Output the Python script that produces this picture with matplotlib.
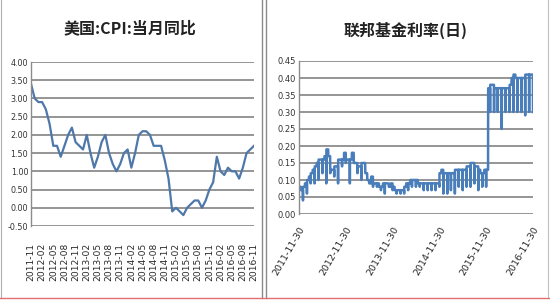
import numpy as np
import pandas as pd
import matplotlib
matplotlib.use("Agg")
import matplotlib.pyplot as plt
from matplotlib.lines import Line2D

# ---------------- data: left chart (US CPI YoY, monthly) ----------------
cpi_months = pd.period_range("2011-11", "2016-11", freq="M").strftime("%Y-%m").tolist()
cpi_values = [3.4, 3.0, 2.9, 2.9, 2.7, 2.3, 1.7, 1.7, 1.4, 1.7, 2.0, 2.2,
              1.8, 1.7, 1.6, 2.0, 1.5, 1.1, 1.4, 1.8, 2.0, 1.5, 1.2, 1.0,
              1.2, 1.5, 1.6, 1.1, 1.5, 2.0, 2.1, 2.1, 2.0, 1.7, 1.7, 1.7,
              1.3, 0.8, -0.1, 0.0, -0.1, -0.2, 0.0, 0.1, 0.2, 0.2, 0.0, 0.2,
              0.5, 0.7, 1.4, 1.0, 0.9, 1.1, 1.0, 1.0, 0.8, 1.1, 1.5, 1.6, 1.7]
cpi_yticks = [-0.5, 0.0, 0.5, 1.0, 1.5, 2.0, 2.5, 3.0, 3.5, 4.0]

# ---------------- data: right chart (Fed funds rate, daily) ----------------
ff_start_date = "2011-11-30"
ff_start_value = 0.08
ff_months = pd.period_range("2011-12", "2016-11", freq="M")
ff_first_half = [0.08, 0.08, 0.10, 0.12, 0.14, 0.16, 0.16, 0.19, 0.13, 0.14, 0.16, 0.16,
                 0.16, 0.16, 0.15, 0.14, 0.15, 0.12, 0.09, 0.09, 0.09, 0.08, 0.09, 0.08,
                 0.08, 0.07, 0.07, 0.08, 0.09, 0.10, 0.10, 0.09, 0.09, 0.09, 0.09, 0.09,
                 0.12, 0.12, 0.12, 0.12, 0.13, 0.13, 0.13, 0.14, 0.15, 0.14, 0.13, 0.12,
                 0.13, 0.38, 0.37, 0.37, 0.37, 0.37, 0.38, 0.41, 0.40, 0.40, 0.41, 0.41]
ff_second_half = [0.07, 0.09, 0.11, 0.13, 0.15, 0.16, 0.17, 0.17, 0.13, 0.14, 0.16, 0.18,
                  0.16, 0.18, 0.15, 0.14, 0.15, 0.10, 0.11, 0.09, 0.08, 0.09, 0.09, 0.09,
                  0.07, 0.07, 0.07, 0.09, 0.10, 0.10, 0.09, 0.09, 0.09, 0.09, 0.09, 0.09,
                  0.13, 0.12, 0.12, 0.12, 0.13, 0.13, 0.13, 0.14, 0.15, 0.14, 0.12, 0.13,
                  0.37, 0.38, 0.37, 0.37, 0.37, 0.37, 0.40, 0.40, 0.40, 0.40, 0.41, 0.41]
ff_month_end = [0.04, 0.06, 0.09, 0.09, 0.10, 0.12, 0.09, 0.12, 0.11, 0.09, 0.14, 0.15,
                0.09, 0.15, 0.12, 0.10, 0.13, 0.09, 0.08, 0.08, 0.07, 0.06, 0.08, 0.07,
                0.06, 0.06, 0.06, 0.07, 0.08, 0.08, 0.08, 0.07, 0.07, 0.07, 0.07, 0.08,
                0.06, 0.06, 0.07, 0.06, 0.08, 0.07, 0.08, 0.08, 0.09, 0.07, 0.08, 0.08,
                0.30, 0.30, 0.30, 0.25, 0.30, 0.30, 0.30, 0.30, 0.30, 0.29, 0.30, 0.30]
ff_yticks = [0.00, 0.05, 0.10, 0.15, 0.20, 0.25, 0.30, 0.35, 0.40, 0.45]
ff_xtick_labels = ["2011-11-30", "2012-11-30", "2013-11-30",
                   "2014-11-30", "2015-11-30", "2016-11-30"]

# build daily step series from the monthly readings
ff_dates = [pd.Timestamp(ff_start_date)]
ff_vals = [ff_start_value]
for p, a, b, e in zip(ff_months, ff_first_half, ff_second_half, ff_month_end):
    days = pd.date_range(p.start_time.normalize(), p.end_time.normalize(), freq="D")
    for d in days:
        if d == days[-1]:
            v = e
        elif d.day <= 15:
            v = a
        else:
            v = b
        ff_dates.append(d)
        ff_vals.append(v)

# ---------------- figure ----------------
fig = plt.figure(figsize=(5.5, 3.0), dpi=100)
fig.patch.set_facecolor("white")

grid_c = "#8c8c8c"
line_c = "#4a7ebb"
title_font = ["Noto Sans CJK SC", "DejaVu Sans"]

# left axes
axL = fig.add_axes([31 / 550, 1 - 226 / 300, (254 - 31) / 550, (226 - 62) / 300])
x = np.arange(len(cpi_values))
axL.plot(x, cpi_values, color="#4f78aa", lw=1.6, solid_joinstyle="round")
axL.set_xlim(0, len(cpi_values) - 1)
axL.set_ylim(-0.5, 4.0)
axL.set_yticks(cpi_yticks)
axL.set_yticklabels([f"{v:.2f}" for v in cpi_yticks], fontsize=5.8, color="#333333")
axL.set_xticks(x[::3])
axL.set_xticklabels(cpi_months[::3], rotation=90, fontsize=6.6, color="#2a2a2a")
axL.tick_params(length=0, pad=2)
axL.tick_params(axis="x", pad=12)
for v in cpi_yticks:
    axL.axhline(v, color=grid_c, lw=1.3, zorder=0)
for s in ["top", "right", "bottom"]:
    axL.spines[s].set_visible(False)
axL.spines["left"].set_color(grid_c)
axL.spines["left"].set_linewidth(1.0)
fig.text(130 / 550, 1 - 28 / 300, "美国:CPI:当月同比", ha="center", va="center",
         fontsize=11.5, fontweight="bold", family=title_font, color="#222222")

# right axes
axR = fig.add_axes([299 / 550, 1 - 214 / 300, (533 - 299) / 550, (214 - 61) / 300])
axR.plot(ff_dates, ff_vals, color=line_c, lw=1.8)
axR.set_xlim(pd.Timestamp("2011-11-30"), pd.Timestamp("2016-11-30"))
axR.set_ylim(0, 0.45)
axR.set_yticks(ff_yticks)
axR.set_yticklabels([f"{v:.2f}" for v in ff_yticks], fontsize=6.0, color="#333333")
axR.set_xticks([pd.Timestamp(s) for s in ff_xtick_labels])
axR.set_xticklabels(ff_xtick_labels, rotation=60, ha="right", va="top",
                    rotation_mode="anchor", fontsize=6.8, color="#2a2a2a")
axR.tick_params(length=0, pad=2)
axR.tick_params(axis="x", pad=8)
for v in ff_yticks:
    axR.axhline(v, color=grid_c, lw=1.3, zorder=0)
for s in ["top", "right", "bottom"]:
    axR.spines[s].set_visible(False)
axR.spines["left"].set_color(grid_c)
axR.spines["left"].set_linewidth(1.0)
fig.text(406 / 550, 1 - 30 / 300, "联邦基金利率(日)", ha="center", va="center",
         fontsize=11.5, fontweight="bold", family=title_font, color="#222222")

# panel borders
def fline(x0, y0, x1, y1, c, lw):
    fig.add_artist(Line2D([x0 / 550, x1 / 550], [1 - y0 / 300, 1 - y1 / 300],
                          color=c, lw=lw, transform=fig.transFigure))

fline(1, 0, 1, 298, "#b0b0b0", 0.8)
fline(262, 0, 262, 298, "#8a8a8a", 1.0)
fline(266, 0, 266, 298, "#8a8a8a", 1.0)
fline(548, 0, 548, 298, "#c0c0c0", 0.8)
fline(0, 298, 550, 298, "#e07070", 1.0)

fig.savefig("out.png", dpi=100, facecolor="white")
